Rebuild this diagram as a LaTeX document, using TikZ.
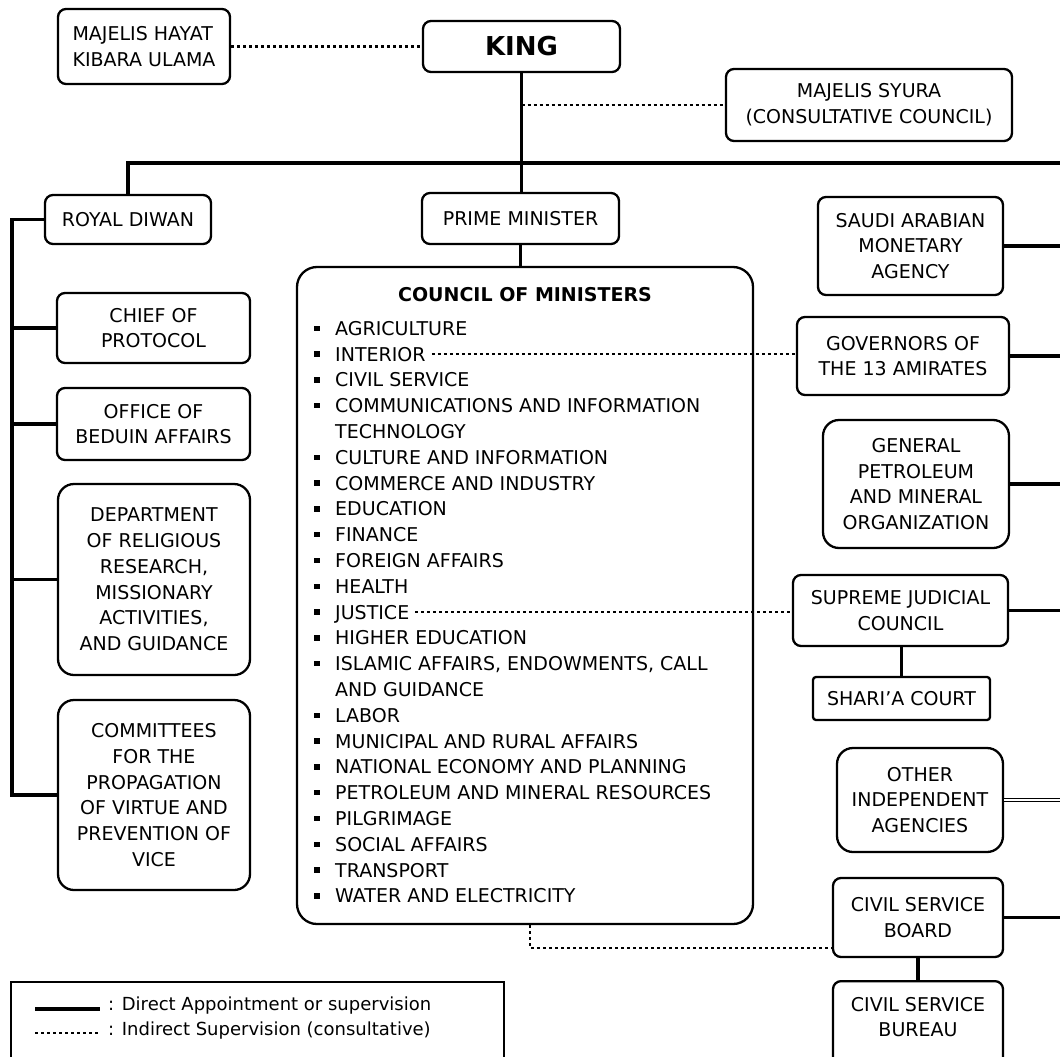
\documentclass[tikz,border=0pt]{standalone}
\usepackage{fontspec}
\setmainfont{DejaVu Sans}
\begin{document}
\begin{tikzpicture}[x=1pt,y=-1pt,
  box/.style={draw, line width=2.3pt, rounded corners=8pt, fill=white, align=center, inner sep=0pt,
    font=\fontsize{19}{25.8}\selectfont},
  bigbox/.style={box, rounded corners=16pt},
  sqbox/.style={box, rounded corners=3pt},
  conn/.style={line width=3.4pt},
  dotline/.style={line width=2.5pt, dash pattern=on 3pt off 3pt},
  dbl/.style={double, double distance=2pt, line width=1.4pt},
  item/.style={inner sep=0pt, text height=14pt, text depth=0pt, font=\fontsize{19}{25.8}\selectfont},
  bul/.style={fill, inner sep=0pt, minimum size=5.5pt},
  legtxt/.style={inner sep=0pt, font=\fontsize{18}{22}\selectfont}
]
\useasboundingbox (0,0) rectangle (1060,1057);
\clip (0,0) rectangle (1060,1057);
\fill[white] (0,0) rectangle (1060,1057);

% top
\node[box, minimum width=172, minimum height=75, align=left] (hayat) at (144,46.5) {MAJELIS HAYAT\\KIBARA ULAMA};
\node[box, minimum width=197, minimum height=51, font=\fontsize{26}{30}\selectfont\bfseries] (king) at (521.5,46.5) {KING};
\node[box, minimum width=286, minimum height=72] (syura) at (869,105) {MAJELIS SYURA\\(CONSULTATIVE COUNCIL)};

% middle row
\node[box, minimum width=166, minimum height=49] (royal) at (128,219.5) {ROYAL DIWAN};
\node[box, minimum width=197, minimum height=51] (pm) at (520.5,218.5) {PRIME MINISTER};
\node[draw, line width=2.3pt, rounded corners=20pt, fill=white, minimum width=456, minimum height=657, inner sep=0pt] (council) at (525,595.5) {};
\node[inner sep=0pt, font=\fontsize{19}{24}\selectfont\bfseries] (ctitle) at (525,295) {COUNCIL OF MINISTERS};

% left column
\node[box, minimum width=193, minimum height=70] (chief) at (153.5,328) {CHIEF OF\\PROTOCOL};
\node[box, minimum width=193, minimum height=72] (beduin) at (153.5,424) {OFFICE OF\\BEDUIN AFFAIRS};
\node[bigbox, minimum width=192, minimum height=191] (dept) at (154,579.5) {DEPARTMENT\\OF RELIGIOUS\\RESEARCH,\\MISSIONARY\\ACTIVITIES,\\AND GUIDANCE};
\node[bigbox, minimum width=192, minimum height=190] (comm) at (154,795) {COMMITTEES\\FOR THE\\PROPAGATION\\OF VIRTUE AND\\PREVENTION OF\\VICE};

% right column
\node[box, minimum width=185, minimum height=98] (sama) at (910.5,246) {SAUDI ARABIAN\\MONETARY\\AGENCY};
\node[box, minimum width=212, minimum height=78] (gov) at (903,356) {GOVERNORS OF\\THE 13 AMIRATES};
\node[bigbox, minimum width=186, minimum height=128] (gp) at (916,484) {GENERAL\\PETROLEUM\\AND MINERAL\\ORGANIZATION};
\node[box, minimum width=215, minimum height=71] (sjc) at (900.5,610.5) {SUPREME JUDICIAL\\COUNCIL};
\node[sqbox, minimum width=177, minimum height=43] (sharia) at (901.5,698.5) {SHARI’A COURT};
\node[bigbox, minimum width=166, minimum height=104] (other) at (920,800) {OTHER\\INDEPENDENT\\AGENCIES};
\node[box, minimum width=170, minimum height=79] (csb) at (918,917.5) {CIVIL SERVICE\\BOARD};
\node[box, minimum width=170, minimum height=110, anchor=north] (bureau) at (918,980) {};
\node[inner sep=0pt, align=center, font=\fontsize{19}{25.8}\selectfont] (bureautxt) at (918,1017) {CIVIL SERVICE\\BUREAU};

% council list
\foreach \i/\t/\b in {0/AGRICULTURE/1, 1/INTERIOR/1, 2/CIVIL SERVICE/1,
  3/COMMUNICATIONS AND INFORMATION/1, 4/TECHNOLOGY/0, 5/CULTURE AND INFORMATION/1,
  6/COMMERCE AND INDUSTRY/1, 7/EDUCATION/1, 8/FINANCE/1, 9/FOREIGN AFFAIRS/1,
  10/HEALTH/1, 11/JUSTICE/1, 12/HIGHER EDUCATION/1,
  13/{ISLAMIC AFFAIRS, ENDOWMENTS, CALL}/1, 14/AND GUIDANCE/0, 15/LABOR/1,
  16/MUNICIPAL AND RURAL AFFAIRS/1, 17/NATIONAL ECONOMY AND PLANNING/1,
  18/PETROLEUM AND MINERAL RESOURCES/1, 19/PILGRIMAGE/1, 20/SOCIAL AFFAIRS/1,
  21/TRANSPORT/1, 22/WATER AND ELECTRICITY/1}{
  \node[item, anchor=west] (m\i) at ({335},{328.3+25.8*\i}) {\t};
  \ifnum\b=1 \node[bul] (b\i) at ({317},{328.3+25.8*\i}) {};\fi
}

% legend
\node[draw, line width=2.3pt, minimum width=493, minimum height=120, anchor=north west, inner sep=0pt] (legend) at (10,981) {};
\node[legtxt, anchor=west] (leg1) at (108,1006) {: Direct Appointment or supervision};
\node[legtxt, anchor=west] (leg2) at (108,1031) {: Indirect Supervision (consultative)};
\draw[line width=4pt] (35,1009) -- (100,1009);
\draw[dotline] (35,1033) -- (100,1033);

% coordinates
\coordinate (busR) at (1064,163);
\coordinate (lb) at (12,795);
\coordinate (k1) at (king.south |- syura.west);
\coordinate (cb) at (530,948);

% solid connectors
\draw[conn] (king.south) -- (king.south |- pm.north);
\draw[conn] (royal.north) |- (busR);
\draw[conn] (pm.south) -- (pm.south |- council.north);
\draw[conn] (royal.west) -| (lb) -- (comm.west);
\draw[conn] (chief.west -| lb) -- (chief.west);
\draw[conn] (beduin.west -| lb) -- (beduin.west);
\draw[conn] (dept.west -| lb) -- (dept.west);
\draw[conn] (sama.east) -- (sama.east -| busR);
\draw[conn] (gov.east) -- (gov.east -| busR);
\draw[conn] (gp.east) -- (gp.east -| busR);
\draw[conn] (sjc.east) -- (sjc.east -| busR);
\draw[dbl] (other.east) -- (other.east -| busR);
\draw[conn] (csb.east) -- (csb.east -| busR);
\draw[conn] (sjc.south -| sharia.north) -- (sharia.north);
\draw[conn] (csb.south) -- (bureau.north);

% dotted connectors
\draw[dotline] (hayat.east) -- (king.west);
\draw[dotline] (k1) -- (syura.west);
\draw[dotline] ([xshift=6pt]m1.east) -- (m1.east -| gov.west);
\draw[dotline] ([xshift=6pt]m11.east) -- (m11.east -| sjc.west);
\draw[dotline] (council.south -| cb) -- (cb) -- (cb -| csb.west);
\end{tikzpicture}
\end{document}
